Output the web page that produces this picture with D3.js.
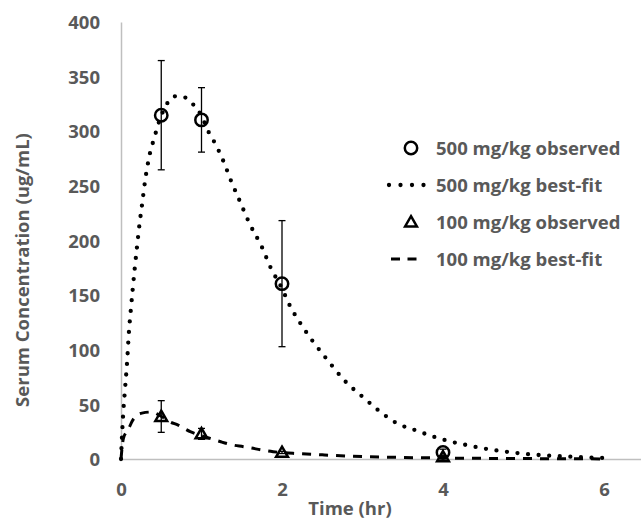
<!DOCTYPE html>
<html><head><meta charset="utf-8">
<script src="https://cdn.jsdelivr.net/npm/d3@7"></script>
<style>
html,body{margin:0;padding:0;background:#fff;}
svg text{font-family:"Open Sans","Liberation Sans",sans-serif;font-weight:bold;fill:#595959;}
</style></head>
<body><svg id="chart" width="641" height="519"></svg>
<script>
// ---- data ----
const yTicks = [0, 50, 100, 150, 200, 250, 300, 350, 400];
const xTicks = [0, 2, 4, 6];
const obsTime = [0.5, 1, 2, 4];
const obs500 = [314.7, 310.4, 160.5, 6];
const err500 = [50, 29.5, 57.7, 3];
const obs100 = [38.9, 23, 6, 2];
const err100 = [14.5, 5, 1, 0.5];
const fitTime500 = [0, 0.025, 0.05, 0.075, 0.1, 0.12, 0.145, 0.17, 0.2, 0.23, 0.26, 0.3, 0.36, 0.41, 0.47, 0.57, 0.67, 0.79, 0.89, 1.0, 1.09, 1.16, 1.27, 1.37, 1.47, 1.6, 1.75, 1.86, 2.0, 2.1, 2.23, 2.39, 2.55, 2.8, 3.0, 3.19, 3.42, 3.67, 3.9, 4.04, 4.29, 4.56, 4.81, 5.07, 5.34, 5.6, 5.86, 6.0];
const fit500 = [0, 39, 64, 88, 118, 135, 155, 174, 195, 215, 232, 255, 280, 293, 308, 325, 332, 331, 325, 314, 299, 290, 273, 254, 237, 215, 194, 175, 156, 140, 124, 107, 92, 70, 57, 45, 33, 26, 20, 17, 12.8, 9, 6.4, 4.3, 3, 2.1, 1.2, 0.9];
const fitTime100 = [0, 0.03, 0.09, 0.15, 0.26, 0.38, 0.48, 0.61, 0.71, 0.86, 0.97, 1.1, 1.23, 1.39, 1.52, 1.62, 1.75, 1.89, 2.01, 2.18, 2.5, 3.0, 3.5, 4.0, 4.5, 5.0, 5.5, 6.0];
const fit100 = [0, 19, 27, 36, 42, 43, 40, 34, 31, 25, 22, 19, 16, 12.8, 11.3, 10, 8.2, 6.7, 5.8, 5, 3.8, 2.2, 1.4, 0.9, 0.6, 0.4, 0.2, 0.1];
const legendLabels = ["500 mg/kg observed", "500 mg/kg best-fit", "100 mg/kg observed", "100 mg/kg best-fit"];

// ---- chart ----
const svg = d3.select("#chart");
const x = d3.scaleLinear().domain([0, 6.5]).range([121, 644.25]);
const y = d3.scaleLinear().domain([0, 400]).range([459, 22]);
const axisCol = "#bfbfbf";
const fs = "18.5px";

// axes
const yAx = svg.append("g").attr("transform", `translate(${x(0)},0)`)
  .call(d3.axisLeft(y).tickValues(yTicks).tickSize(0));
yAx.select(".domain").attr("stroke", axisCol).attr("stroke-width", 1.5);
yAx.selectAll("text").style("font-size", fs).attr("dy", "0.36em").attr("x", -21);

const xAx = svg.append("g").attr("transform", `translate(0,${y(0)})`)
  .call(d3.axisBottom(x).tickValues(xTicks).tickSize(0).tickFormat(d3.format("d")));
xAx.select(".domain").attr("stroke", axisCol).attr("stroke-width", 1.5);
xAx.selectAll("text").style("font-size", fs).attr("y", 37).attr("dy", 0);

svg.append("text").attr("x", 350).attr("y", 515).attr("text-anchor", "middle")
  .style("font-size", fs).text("Time (hr)");
svg.append("text").attr("transform", `translate(29,270) rotate(-90)`)
  .attr("text-anchor", "middle").style("font-size", fs).text("Serum Concentration (ug/mL)");

// fit lines
const line = d3.line().curve(d3.curveMonotoneX);
const pts500 = fitTime500.map((t, i) => [x(t), y(fit500[i])]);
const pts100 = fitTime100.map((t, i) => [x(t), y(fit100[i])]);
svg.append("path").attr("d", line(pts100)).attr("fill", "none").attr("stroke", "#000")
  .attr("stroke-width", 3).attr("stroke-dasharray", "9 8");
svg.append("path").attr("d", line(pts500)).attr("fill", "none").attr("stroke", "#000")
  .attr("stroke-width", 4.3).attr("stroke-linecap", "round").attr("stroke-dasharray", "0 10.6");

// error bars
function errBars(vals, errs) {
  const g = svg.append("g").attr("stroke", "#000").attr("stroke-width", 1.3);
  obsTime.forEach((t, i) => {
    const cx = x(t), y1 = y(vals[i] + errs[i]), y2 = y(vals[i] - errs[i]);
    g.append("line").attr("x1", cx).attr("x2", cx).attr("y1", y1).attr("y2", y2);
    g.append("line").attr("x1", cx - 3.5).attr("x2", cx + 3.5).attr("y1", y1).attr("y2", y1);
    g.append("line").attr("x1", cx - 3.5).attr("x2", cx + 3.5).attr("y1", y2).attr("y2", y2);
  });
}
errBars(obs500, err500);
errBars(obs100, err100);

// markers
const tri = d3.symbol().type(d3.symbolTriangle).size(60);
function circ(g, cx, cy) {
  g.append("circle").attr("cx", cx).attr("cy", cy).attr("r", 6.2)
    .attr("fill", "none").attr("stroke", "#000").attr("stroke-width", 2.5);
}
function triM(g, cx, cy) {
  g.append("path").attr("d", tri()).attr("transform", `translate(${cx},${cy + 1})`)
    .attr("fill", "none").attr("stroke", "#000").attr("stroke-width", 2.5);
}
const mk = svg.append("g");
obsTime.forEach((t, i) => circ(mk, x(t), y(obs500[i])));
obsTime.forEach((t, i) => triM(mk, x(t), y(obs100[i])));

// legend
const lg = svg.append("g");
const rowsY = [148, 185, 222, 259];
const lx = 411, tx = 436;
circ(lg, lx, rowsY[0]);
lg.append("line").attr("x1", 389).attr("x2", 424).attr("y1", rowsY[1]).attr("y2", rowsY[1])
  .attr("stroke", "#000").attr("stroke-width", 4.3).attr("stroke-linecap", "round").attr("stroke-dasharray", "0 11.5");
triM(lg, lx, rowsY[2]);
lg.append("line").attr("x1", 391).attr("x2", 424).attr("y1", rowsY[3]).attr("y2", rowsY[3])
  .attr("stroke", "#000").attr("stroke-width", 3).attr("stroke-dasharray", "9 7.5");
legendLabels.forEach((l, i) => {
  lg.append("text").attr("x", tx).attr("y", rowsY[i]).attr("dy", "0.36em")
    .style("font-size", fs).text(l);
});
</script></body></html>
